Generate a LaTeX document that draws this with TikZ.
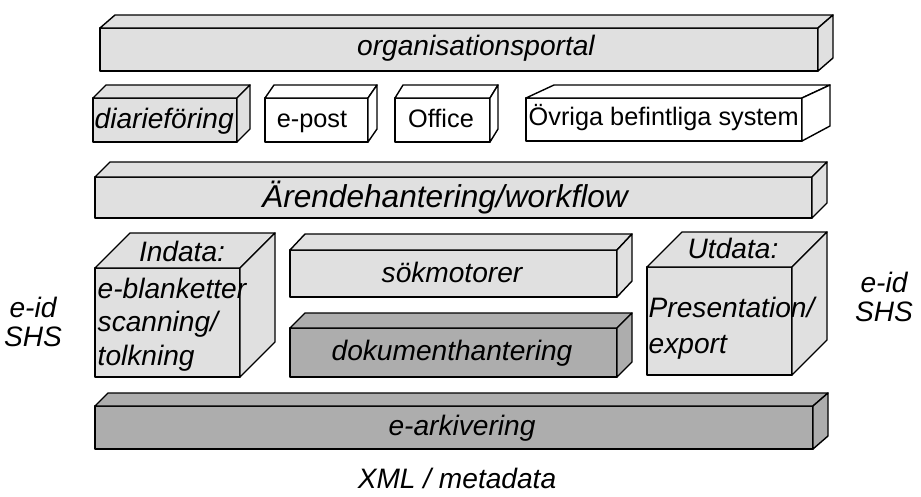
\documentclass[tikz,border=0pt]{standalone}
\usepackage{fontspec}
\setmainfont{Liberation Sans}
\definecolor{lite}{gray}{0.88}
\definecolor{dark}{gray}{0.68}
\begin{document}
\begin{tikzpicture}[x=.02cm, y=-.02cm, line width=.8pt, line join=round,
  face/.style={draw, fill=lite}, darkface/.style={draw, fill=dark},
  plainface/.style={draw, fill=white},
  lbl/.style={inner sep=0pt, font=\fontsize{16}{19}\selectfont\itshape},
  rlbl/.style={inner sep=0pt, font=\fontsize{14.4}{17}\selectfont}]
\useasboundingbox (0,0) rectangle (921,497);
% organisationsportal
\draw[face] (100,28) rectangle (818,71);
\draw[face] (100,28) -- (115,15) -- (833,15) -- (818,28) -- cycle;
\draw[face] (818,28) -- (833,15) -- (833,58) -- (818,71) -- cycle;
\node[lbl] (portal) at (476,48){organisationsportal};
% befintliga system
\draw[face] (93,98) rectangle (237,142);
\draw[face] (93,98) -- (106,85) -- (250,85) -- (237,98) -- cycle;
\draw[face] (237,98) -- (250,85) -- (250,129) -- (237,142) -- cycle;
\node[lbl, anchor=base west] (diarie) at (94,129){diarieföring};
\draw[plainface] (265,98) rectangle (368,142);
\draw[plainface] (265,98) -- (274,85) -- (377,85) -- (368,98) -- cycle;
\draw[plainface] (368,98) -- (377,85) -- (377,129) -- (368,142) -- cycle;
\node[rlbl, anchor=base] (epost) at (312,127){e-post};
\draw[plainface] (395,98) rectangle (490,142);
\draw[plainface] (395,98) -- (403,85) -- (498,85) -- (490,98) -- cycle;
\draw[plainface] (490,98) -- (498,85) -- (498,129) -- (490,142) -- cycle;
\node[rlbl, anchor=base] (office) at (441,127){Office};
\draw[plainface] (526,98) rectangle (802,141);
\draw[plainface] (526,98) -- (554,85) -- (830,85) -- (802,98) -- cycle;
\draw[plainface] (802,98) -- (830,85) -- (830,126) -- (802,141) -- cycle;
\node[rlbl, anchor=base west] (ovriga) at (528,125){Övriga befintliga system};
% arendehantering
\draw[face] (95,177) rectangle (812,218);
\draw[face] (95,177) -- (110,162) -- (827,162) -- (812,177) -- cycle;
\draw[face] (812,177) -- (827,162) -- (827,203) -- (812,218) -- cycle;
\node[lbl, font=\fontsize{18}{21}\selectfont\itshape] (arende) at (445,198){Ärendehantering/workflow};
% indata
\draw[face] (95,268) rectangle (240,377);
\draw[face] (95,268) -- (130,233) -- (275,233) -- (240,268) -- cycle;
\draw[face] (240,268) -- (275,233) -- (275,342) -- (240,377) -- cycle;
\node[lbl] (indata) at (182,251){Indata:};
\node[lbl, anchor=west] (blank) at (97,288){e-blanketter};
\node[lbl, anchor=west] (scan) at (97,324){scanning/};
\node[lbl, anchor=west] (tolk) at (97,358){tolkning};
% sokmotorer och dokumenthantering
\draw[face] (290,250) rectangle (617,297);
\draw[face] (290,250) -- (305,234) -- (632,234) -- (617,250) -- cycle;
\draw[face] (617,250) -- (632,234) -- (632,281) -- (617,297) -- cycle;
\node[lbl] (sok) at (452,272){sökmotorer};
\draw[darkface] (290,328) rectangle (617,377);
\draw[darkface] (290,328) -- (305,313) -- (632,313) -- (617,328) -- cycle;
\draw[darkface] (617,328) -- (632,313) -- (632,362) -- (617,377) -- cycle;
\node[lbl] (dok) at (452,353){dokumenthantering};
% utdata
\draw[face] (647,267) rectangle (792,375);
\draw[face] (647,267) -- (682,232) -- (827,232) -- (792,267) -- cycle;
\draw[face] (792,267) -- (827,232) -- (827,340) -- (792,375) -- cycle;
\node[lbl] (utdata) at (733,248){Utdata:};
\node[lbl, anchor=west] (pres) at (648,307){Presentation/};
\node[lbl, anchor=west] (export) at (648,347){export};
% e-arkivering
\draw[darkface] (95,406) rectangle (813,449);
\draw[darkface] (95,406) -- (108,393) -- (828,393) -- (813,406) -- cycle;
\draw[darkface] (813,406) -- (828,393) -- (828,436) -- (813,449) -- cycle;
\node[lbl] (ark) at (462,428){e-arkivering};
% sidotexter
\node[lbl] (eidL) at (33,307){e-id};
\node[lbl] (shsL) at (33,337){SHS};
\node[lbl] (eidR) at (884,282){e-id};
\node[lbl] (shsR) at (884,312){SHS};
\node[lbl] (xml) at (457,478){XML / metadata};
\end{tikzpicture}
\end{document}
